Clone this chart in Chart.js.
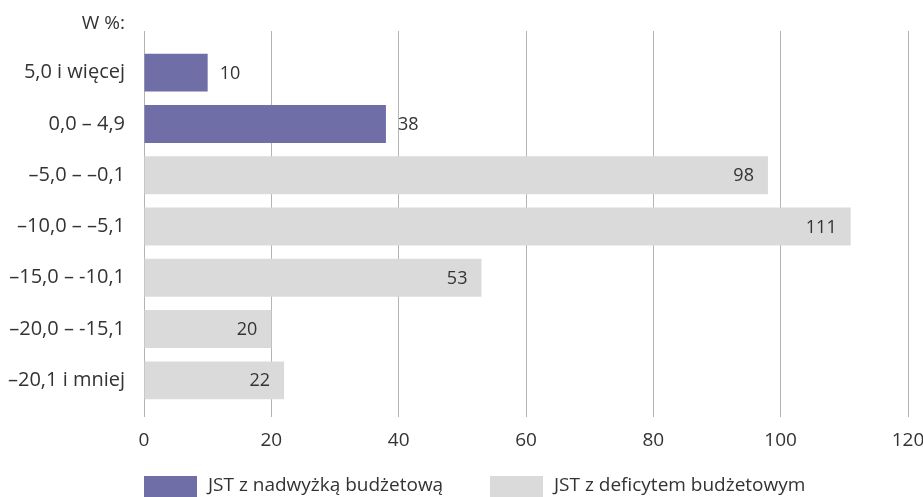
<!DOCTYPE html>
<html>
<head>
<meta charset="utf-8">
<script src="https://cdn.jsdelivr.net/npm/chart.js@4/dist/chart.umd.min.js"></script>
<style>
  html, body { margin: 0; padding: 0; background: #fff; }
  #wrap { position: relative; width: 923px; height: 497px; }
</style>
</head>
<body>
<div id="wrap"><canvas id="chart" width="923" height="497"></canvas></div>
<script>
// categories and values
const categories = ['5,0 i więcej', '0,0 – 4,9', '–5,0 – –0,1', '–10,0 – –5,1', '–15,0 – -10,1', '–20,0 – -15,1', '–20,1 i mniej'];
const surplus = [10, 38, null, null, null, null, null];
const deficit = [null, null, 98, 111, 53, 20, 22];
const seriesNames = ['JST z nadwyżką budżetową', 'JST z deficytem budżetowym'];
const unitLabel = 'W %:';
const xTicks = [0, 20, 40, 60, 80, 100, 120];

const FONT = '"Open Sans", sans-serif';
const TEXT = '#333333';
const PURPLE = '#6f6ea6';
const GREY = '#d9dad9';
const GRID = '#b4b4b4';

// value labels next to / inside bars
const barLabels = {
    id: 'barLabels',
    afterDatasetsDraw(chart) {
        const ctx = chart.ctx;
        ctx.save();
        ctx.font = '18px ' + FONT;
        ctx.fillStyle = TEXT;
        ctx.textBaseline = 'middle';
        chart.data.datasets.forEach((ds, di) => {
            const meta = chart.getDatasetMeta(di);
            meta.data.forEach((bar, i) => {
                const v = ds.data[i];
                if (v === null) return;
                if (di === 0) {
                    ctx.textAlign = 'left';
                    ctx.fillText(v, bar.x + 12, bar.y + 1);
                } else {
                    ctx.textAlign = 'right';
                    ctx.fillText(v, bar.x - 14, bar.y + 1);
                }
            });
        });
        ctx.restore();
    }
};

// "W %:" above the category labels and the legend under the axis
const extras = {
    id: 'extras',
    afterDraw(chart) {
        const ctx = chart.ctx;
        const area = chart.chartArea;
        ctx.save();
        ctx.font = '19px ' + FONT;
        ctx.fillStyle = TEXT;
        ctx.textBaseline = 'middle';
        ctx.textAlign = 'right';
        ctx.fillText(unitLabel, area.left - 19, 24);

        const colors = [PURPLE, GREY];
        const starts = [area.left, 490];
        ctx.textAlign = 'left';
        seriesNames.forEach((name, i) => {
            ctx.fillStyle = colors[i];
            ctx.fillRect(starts[i], 476, 53, 21);
            ctx.fillStyle = TEXT;
            ctx.fillText(name, starts[i] + 64, 486);
        });
        ctx.restore();
    }
};

new Chart(document.getElementById('chart'), {
    type: 'bar',
    data: {
        labels: categories,
        datasets: [
            { label: seriesNames[0], data: surplus, backgroundColor: PURPLE, grouped: false },
            { label: seriesNames[1], data: deficit, backgroundColor: GREY, grouped: false }
        ]
    },
    options: {
        indexAxis: 'y',
        responsive: false,
        animation: false,
        barPercentage: 0.74,
        categoryPercentage: 1,
        layout: { padding: { top: 31, right: 15, bottom: 0, left: 0 } },
        plugins: {
            legend: { display: false },
            tooltip: { enabled: false }
        },
        scales: {
            x: {
                position: 'bottom',
                min: 0,
                max: 120,
                afterBuildTicks: (s) => { s.ticks = xTicks.map(v => ({ value: v })); },
                afterFit: (s) => { s.height = 91; s.paddingLeft = 0; s.paddingRight = 0; },
                grid: { color: GRID, lineWidth: 1, tickLength: 11, drawTicks: true },
                border: { display: false },
                ticks: { color: TEXT, font: { family: FONT, size: 19 }, padding: 12 }
            },
            x2: {
                position: 'top',
                min: 0,
                max: 120,
                afterBuildTicks: (s) => { s.ticks = xTicks.map(v => ({ value: v })); },
                afterFit: (s) => { s.height = 16; s.paddingLeft = 0; s.paddingRight = 0; },
                grid: { color: GRID, lineWidth: 1, tickLength: 16, drawTicks: true, drawOnChartArea: false },
                border: { display: false },
                ticks: { display: false }
            },
            y: {
                afterFit: (s) => { s.width = 144; },
                grid: { display: false, drawTicks: false },
                border: { display: false },
                ticks: { color: TEXT, font: { family: FONT, size: 20 }, padding: 19 }
            }
        }
    },
    plugins: [barLabels, extras]
});
</script>
</body>
</html>
